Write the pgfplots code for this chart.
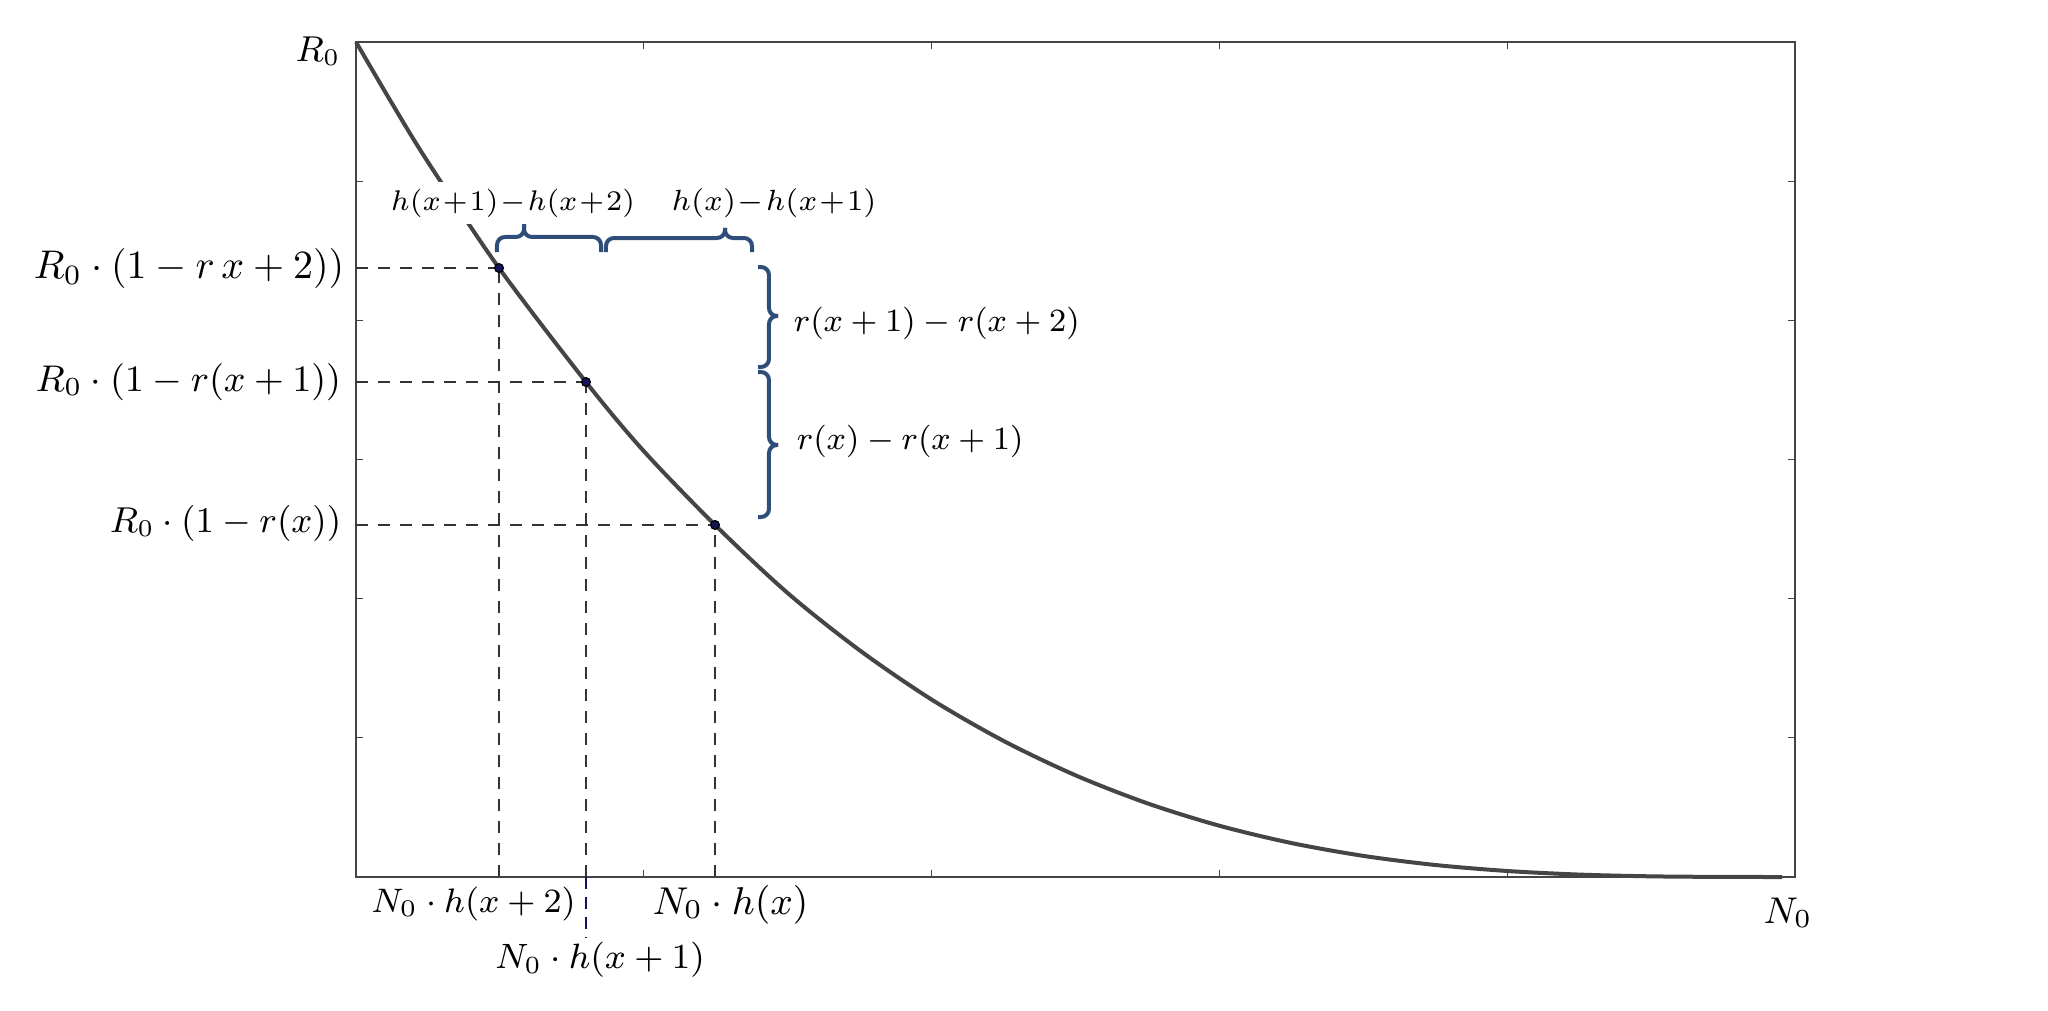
\RequirePackage{fix-cm}
\documentclass[border=0pt]{standalone}
\usepackage{pgfplots}
\pgfplotsset{compat=1.18}
\definecolor{curvec}{HTML}{454545}
\definecolor{axisc}{HTML}{444444}
\definecolor{dashc}{HTML}{333333}
\definecolor{navy}{HTML}{14145A}
\definecolor{bracec}{HTML}{2E4D78}
\newcommand{\fs}[1]{\fontsize{#1}{#1}\selectfont}
\tikzset{
  dashes/.style={dashc, line width=0.5pt, dash pattern=on 3pt off 2.5pt},
  br/.style={bracec, line width=1pt, rounded corners=2pt},
  lb/.style={inner sep=0pt, text=black},
}
\begin{document}
\begin{tikzpicture}
\path[use as bounding box] (0,0) rectangle (512pt,252.5pt);
\begin{axis}[
  at={(89pt,33.25pt)}, anchor=south west,
  scale only axis, width=359.75pt, height=208.75pt,
  xmin=0, xmax=1, ymin=0, ymax=1,
  clip=false,
  axis line style={draw=axisc, line width=0.6pt},
  xtick={0.2,0.4,0.6,0.8},
  ytick={0.166667,0.333333,0.5,0.666667,0.833333},
  xticklabel=\empty, yticklabel=\empty,
  tick align=inside, major tick length=1.75pt,
  every tick/.style={draw=axisc, line width=0.3pt},
]
% dashed guide lines
\addplot[dashes] coordinates {(0,0.7293) (0.0994,0.7293)};
\addplot[dashes] coordinates {(0.0994,0) (0.0994,0.7293)};
\addplot[dashes] coordinates {(0,0.5928) (0.1598,0.5928)};
\addplot[dashes] coordinates {(0.1598,0) (0.1598,0.5928)};
\addplot[navy, line width=0.5pt, dash pattern=on 3pt off 2pt] coordinates {(0.1598,0) (0.1598,-0.079)};
\addplot[dashes] coordinates {(0,0.4216) (0.2495,0.4216)};
\addplot[dashes] coordinates {(0.2495,0) (0.2495,0.4216)};
% curve
\addplot[curvec, line width=1pt, smooth] coordinates {
(0,1) (0.025,0.9265) (0.05,0.8562) (0.0994,0.7293) (0.1598,0.5928) (0.2,0.510)
(0.2495,0.4216) (0.3,0.340) (0.35,0.2715) (0.4,0.2125) (0.45,0.163) (0.5,0.1218)
(0.55,0.0882) (0.6,0.0614) (0.65,0.0407) (0.7,0.0253) (0.75,0.0144) (0.8,0.0072)
(0.85,0.0029) (0.9,0.0008) (0.95,0.0001) (0.991,0)};
% points
\addplot[only marks, mark=*, mark size=1.1pt, mark options={fill=navy, draw=black, line width=0.3pt}]
  coordinates {(0.0994,0.7293) (0.1598,0.5928) (0.2495,0.4216)};
% braces
\draw[br] (0.09798,0.74850) -- (0.09798,0.76647) -- (0.11675,0.76647) -- (0.11675,0.78443);
\draw[br] (0.17026,0.74850) -- (0.17026,0.76647) -- (0.11675,0.76647) -- (0.11675,0.78443);
\draw[br] (0.17373,0.74850) -- (0.17373,0.76527) -- (0.25643,0.76527) -- (0.25643,0.77725);
\draw[br] (0.27519,0.74850) -- (0.27519,0.76527) -- (0.25643,0.76527) -- (0.25643,0.77725);
\draw[br] (0.27936,0.73054) -- (0.28700,0.73054) -- (0.28700,0.67186) -- (0.29326,0.67186);
\draw[br] (0.27936,0.61078) -- (0.28700,0.61078) -- (0.28700,0.67186) -- (0.29326,0.67186);
\draw[br] (0.27936,0.60479) -- (0.28700,0.60479) -- (0.28700,0.51737) -- (0.29326,0.51737);
\draw[br] (0.27936,0.43114) -- (0.28700,0.43114) -- (0.28700,0.51737) -- (0.29326,0.51737);
% labels
\node[lb, anchor=base east] at (-0.01042,0.9772) {\fs{9}$R_0$};
\node[lb, anchor=east] at (-0.00764,0.7293) {\fs{10}$R_0\cdot(1-r\,x+2))$};
\node[lb, anchor=east] at (-0.00973,0.5928) {\fs{9.3}$R_0\cdot(1-r(x+1))$};
\node[lb, anchor=east] at (-0.00973,0.4228) {\fs{9}$R_0\cdot(1-r(x))$};
\node[lb] at (0.08165,-0.03174) {\fs{8.5}$N_0\cdot h(x+2)$};
\node[lb] at (0.26025,-0.03293) {\fs{9.7}$N_0\cdot h(x)$};
\node[lb, fill=white, inner ysep=1pt] at (0.16956,-0.0994) {\fs{8.8}$N_0\cdot h(x+1)$};
\node[lb, anchor=base] at (0.9951,-0.0551) {\fs{9.3}$N_0$};
\node[lb, fill=white, inner ysep=1.6pt, inner xsep=0.5pt] at (0.1091,0.8072) {\fs{7.1}\medmuskip=1mu$h(x+1)-h(x+2)$};
\node[lb] at (0.2905,0.8072) {\fs{7.3}\medmuskip=1mu$h(x)-h(x+1)$};
\node[lb, anchor=west] at (0.3037,0.6629) {\fs{8.1}$r(x+1)-r(x+2)$};
\node[lb, anchor=west] at (0.3058,0.5216) {\fs{8.1}$r(x)-r(x+1)$};
\end{axis}
\end{tikzpicture}
\end{document}
